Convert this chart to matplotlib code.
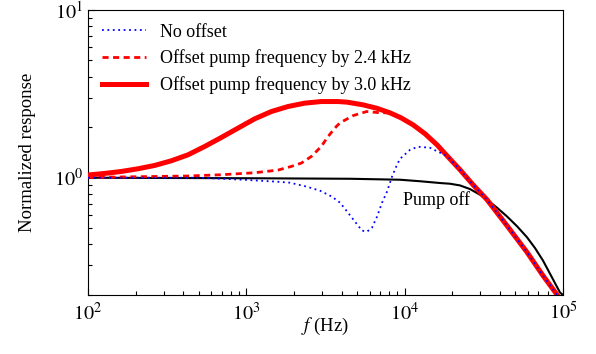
import matplotlib
matplotlib.use("Agg")
import matplotlib.pyplot as plt
import matplotlib.ticker as mticker

plt.rcParams['font.family'] = ['Liberation Serif', 'DejaVu Serif']
plt.rcParams['mathtext.fontset'] = 'stix'

# Pump off (black)
f_off = [100, 1055, 4516, 9346, 12500, 16720, 19330, 22360, 25860, 29910, 33110, 38300,
         44290, 51230, 59230, 66560, 74750, 84010, 95740, 100000]
r_off = [1.0, 0.993, 0.986, 0.973, 0.953, 0.930, 0.921, 0.900, 0.856, 0.792, 0.740, 0.663,
         0.588, 0.514, 0.442, 0.381, 0.321, 0.261, 0.207, 0.200]

# Offset pump frequency by 3.0 kHz (thick red)
f_30 = [100, 127.5, 162.3, 206.9, 263.8, 335.9, 428.2, 545.9, 695.1, 886.1, 1129.5, 1438,
        1833, 2337, 2975, 3793, 4323, 5458, 6689, 8077, 9484, 11290, 13450, 16000, 18510,
        22360, 27020, 33110, 44290, 59230, 74750, 91640]
r_30 = [1.038, 1.061, 1.090, 1.131, 1.184, 1.262, 1.370, 1.536, 1.738, 1.976, 2.245, 2.481,
        2.658, 2.784, 2.846, 2.846, 2.822, 2.720, 2.593, 2.437, 2.276, 2.068, 1.828, 1.572,
        1.352, 1.116, 0.9085, 0.740, 0.518, 0.360, 0.261, 0.201]

# Offset pump frequency by 2.4 kHz (dashed red)
f_24 = [100, 428.2, 695.1, 1129.5, 1585, 1924, 2226, 2574, 2975, 3280, 3700, 3905, 4739,
        5754, 6987, 8077, 9484, 11290, 13450, 16000, 18510, 22360, 27020, 33110, 44290,
        59230, 74750, 91640]
r_24 = [1.004, 1.024, 1.042, 1.071, 1.111, 1.168, 1.223, 1.339, 1.536, 1.761, 2.020, 2.125,
        2.349, 2.481, 2.440, 2.437, 2.276, 2.068, 1.828, 1.572, 1.352, 1.116, 0.9085, 0.740,
        0.518, 0.360, 0.261, 0.201]

# No offset (blue dotted)
f_00 = [100, 509, 953, 1219, 1563, 1889, 2417, 2919, 3475, 3909, 4385, 4856, 5378, 5785,
        6220, 6690, 7194, 7736, 8318, 8946, 9355, 10820, 12150, 14450, 16250, 18510, 22360,
        27020, 33110, 44290, 59230, 74750, 91640]
r_00 = [1.0, 1.0, 0.973, 0.960, 0.947, 0.934, 0.884, 0.837, 0.771, 0.710, 0.619, 0.547,
        0.484, 0.477, 0.504, 0.586, 0.710, 0.826, 1.014, 1.195, 1.297, 1.468, 1.530, 1.509,
        1.428, 1.352, 1.116, 0.9085, 0.740, 0.518, 0.360, 0.261, 0.201]

x_ticks = [1e2, 1e3, 1e4, 1e5]
x_ticklabels = [r'$10^{2}$', r'$10^{3}$', r'$10^{4}$', r'$10^{5}$']
y_ticks = [1, 10]
y_ticklabels = [r'$10^{0}$', r'$10^{1}$']

fig = plt.figure(figsize=(5.96, 3.54), dpi=100)
ax = fig.add_axes([0.1477, 0.1667, 0.7969, 0.8051])

ax.plot(f_off, r_off, color='black', lw=1.5, zorder=2)
l0, = ax.plot(f_00, r_00, color='blue', lw=1.3, ls=(0, (1, 2)), zorder=4,
              label='No offset')
l1, = ax.plot(f_24, r_24, color='red', lw=2.0, ls=(0, (2.2, 1.6)), zorder=3,
              label='Offset pump frequency by 2.4 kHz')
l2, = ax.plot(f_30, r_30, color='red', lw=3.6, zorder=3,
              label='Offset pump frequency by 3.0 kHz')

ax.set_xscale('log')
ax.set_yscale('log')
ax.set_xlim(100, 1e5)
ax.set_ylim(0.2, 10)
ax.set_yticks(y_ticks)
ax.set_yticklabels(y_ticklabels)
ax.set_xticks(x_ticks)
ax.set_xticklabels(x_ticklabels)
ax.yaxis.set_minor_formatter(mticker.NullFormatter())
ax.xaxis.set_minor_formatter(mticker.NullFormatter())
ax.tick_params(which='both', direction='in', top=False, right=False, labelsize=14.5)
ax.tick_params(which='major', length=5, width=0.8)
ax.tick_params(which='minor', length=3, width=0.8)
ax.tick_params(axis='x', which='major', pad=5.5)

ax.set_xlabel(r'$f$ (Hz)', fontsize=13.5)
ax.set_ylabel('Normalized response', fontsize=13.5)
ax.xaxis.set_label_coords(0.5, -0.074)
ax.yaxis.set_label_coords(-0.109, 0.5)

ax.text(9761, 0.740, 'Pump off', fontsize=13, ha='left', va='center')

ax.legend(handles=[l0, l1, l2], loc='upper left', frameon=False, fontsize=13,
          handlelength=2.45, labelspacing=0.5, borderaxespad=0.35)

fig.savefig('out.png', dpi=100)
